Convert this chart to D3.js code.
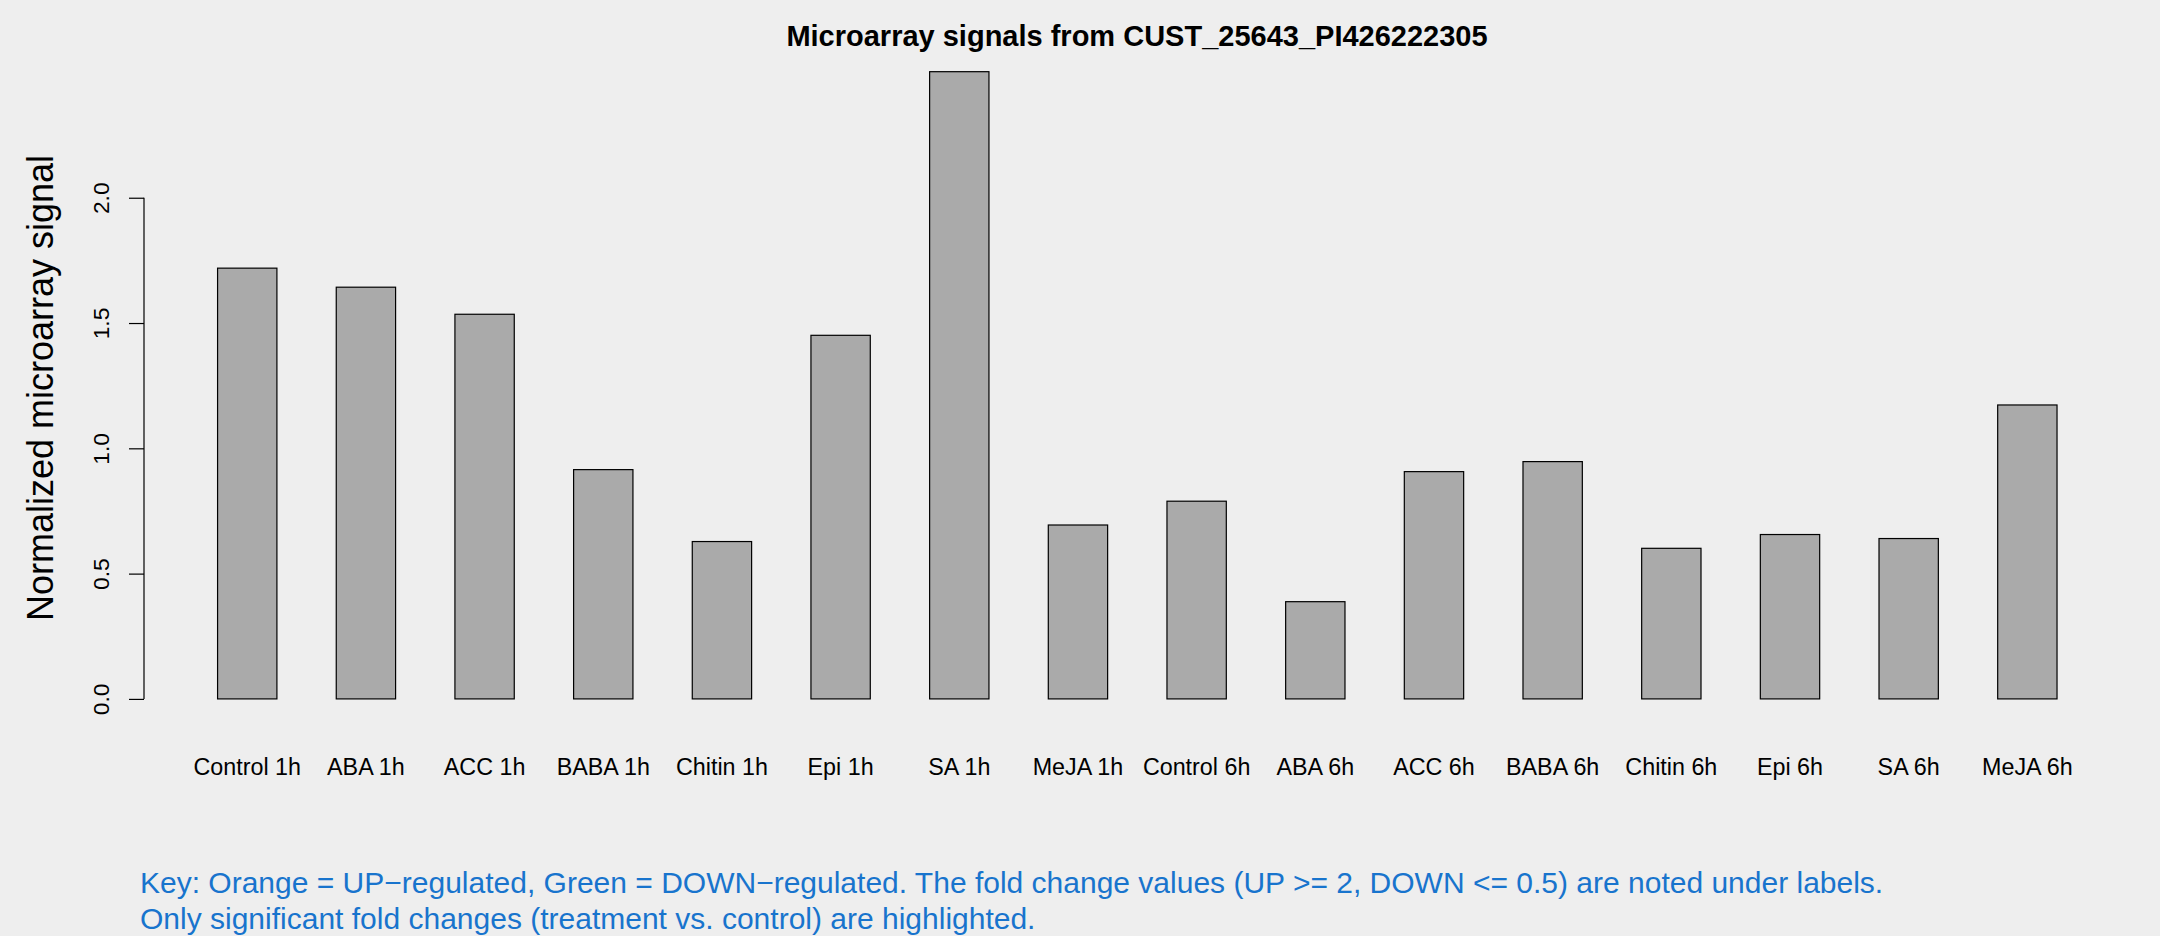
<!DOCTYPE html>
<html>
<head>
  <style>
    body { margin: 0; background: #eeeeee; }
    text { font-family: "Liberation Sans", Arial, Helvetica, sans-serif; }
    .bar { fill: #aaaaaa; stroke: #000; stroke-width: 1.2; }
  </style>
  <title>Microarray signals from CUST_25643_PI426222305</title>
  <script src="https://cdn.jsdelivr.net/npm/d3@7/dist/d3.min.js"></script>
</head>
<body>
<script>
  // Data
  const categories = ["Control 1h", "ABA 1h", "ACC 1h", "BABA 1h", "Chitin 1h", "Epi 1h", "SA 1h", "MeJA 1h",
                      "Control 6h", "ABA 6h", "ACC 6h", "BABA 6h", "Chitin 6h", "Epi 6h", "SA 6h", "MeJA 6h"];
  const signals = [1.719, 1.643, 1.535, 0.915, 0.628, 1.451, 2.503, 0.694,
                   0.789, 0.388, 0.907, 0.947, 0.601, 0.656, 0.640, 1.173];
  const yTicks = [0, 0.5, 1, 1.5, 2];
  const keyLines = [
    "Key: Orange = UP\u2212regulated, Green = DOWN\u2212regulated. The fold change values (UP >= 2, DOWN <= 0.5) are noted under labels.",
    "Only significant fold changes (treatment vs. control) are highlighted."
  ];

  const width = 2160, height = 936;
  const plot = {left: 144, right: 2130.6, top: 46.6, bottom: 724};

  const svg = d3.select("body").append("svg")
      .attr("width", width)
      .attr("height", height);

  svg.append("rect").attr("width", width).attr("height", height).attr("fill", "#eeeeee");

  // R barplot style: bar width = gap, 4% padding on both axes
  const x = d3.scaleBand()
      .domain(categories)
      .range([plot.left, plot.right])
      .paddingInner(0.5)
      .paddingOuter(0.62);

  const ymax = d3.max(signals);
  const y = d3.scaleLinear()
      .domain([-0.04 * ymax, ymax * 1.04])
      .range([plot.bottom, plot.top]);

  // Bars
  svg.append("g").attr("id", "bars")
    .selectAll("rect")
    .data(signals)
    .enter().append("rect")
      .attr("class", "bar")
      .attr("x", (d, i) => x(categories[i]))
      .attr("width", x.bandwidth())
      .attr("y", d => y(d))
      .attr("height", d => y(0) - y(d));

  // Y axis (line only spans the ticks, like R)
  const yAxis = svg.append("g")
      .attr("transform", "translate(" + plot.left + ",0)")
      .call(d3.axisLeft(y).tickValues(yTicks).tickFormat(d3.format(".1f")).tickSize(15));
  yAxis.select(".domain").remove();
  yAxis.selectAll(".tick line").attr("stroke", "#000").attr("stroke-width", 1.2);
  yAxis.selectAll(".tick text")
      .attr("transform", "rotate(-90)")
      .attr("x", 0)
      .attr("y", -35)
      .attr("dy", 0)
      .attr("fill", "#000")
      .style("text-anchor", "middle")
      .style("font-size", "22.8px")
      .style("font-family", "'Liberation Sans', Arial, sans-serif");
  yAxis.append("line")
      .attr("x1", 0).attr("x2", 0)
      .attr("y1", y(yTicks[0])).attr("y2", y(yTicks[yTicks.length - 1]))
      .attr("stroke", "#000").attr("stroke-width", 1.2);

  // Category labels
  const xAxis = svg.append("g")
      .attr("transform", "translate(0," + plot.bottom + ")")
      .call(d3.axisBottom(x).tickSize(0));
  xAxis.select(".domain").remove();
  xAxis.selectAll(".tick text")
      .attr("y", 51)
      .attr("dy", 0)
      .attr("fill", "#000")
      .style("font-size", "23.3px")
      .style("font-family", "'Liberation Sans', Arial, sans-serif");

  // Y axis label
  svg.append("text")
      .attr("transform", "translate(53,388) rotate(-90)")
      .style("text-anchor", "middle")
      .style("font-size", "36px")
      .text("Normalized microarray signal");

  // Title
  svg.append("text")
      .attr("x", 1137)
      .attr("y", 46)
      .style("text-anchor", "middle")
      .style("font-size", "29px")
      .style("font-weight", "bold")
      .text("Microarray signals from CUST_25643_PI426222305");

  // Key
  svg.append("g").selectAll("text")
    .data(keyLines)
    .enter().append("text")
      .attr("x", 140)
      .attr("y", (d, i) => 893 + i * 36)
      .attr("fill", "#1874cd")
      .style("font-size", "30px")
      .text(d => d);
</script>
</body>
</html>
